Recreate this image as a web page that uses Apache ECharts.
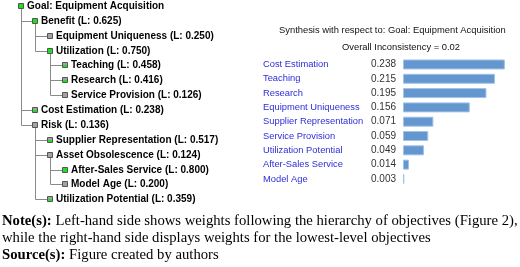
<!DOCTYPE html>
<html><head><meta charset="utf-8">
<script src="https://cdn.jsdelivr.net/npm/echarts@6/dist/echarts.min.js"></script>
<style>html,body{margin:0;padding:0;background:#fff}#c{width:520px;height:267px}</style>
</head><body><div id="c"></div>
<script>
// ---- data ----
const nodeNames = ['Goal: Equipment Acquisition','Benefit','Equipment Uniqueness','Utilization','Teaching','Research','Service Provision','Cost Estimation','Risk','Supplier Representation','Asset Obsolescence','After-Sales Service','Model Age','Utilization Potential'];
const nodeWeights = [null,0.625,0.250,0.750,0.458,0.416,0.126,0.238,0.136,0.517,0.124,0.800,0.200,0.359];
const nodeParents = [-1,0,1,1,3,3,3,0,0,8,8,10,10,8];
const nodeStatus = ['done','done','open','done','part','part','open','part','open','part','open','done','open','part'];
const barCategories = ['Cost Estimation','Teaching','Research','Equipment Uniqueness','Supplier Representation','Service Provision','Utilization Potential','After-Sales Service','Model Age'];
const barValues = [0.238,0.215,0.195,0.156,0.071,0.059,0.049,0.014,0.003];
const synthesisTitle = 'Synthesis with respect to: Goal: Equipment Acquisition';
const inconsistencyText = 'Overall Inconsistency = 0.02';
const noteLine1 = 'Left-hand side shows weights following the hierarchy of objectives (Figure 2),';
const noteLine2 = 'while the right-hand side displays weights for the lowest-level objectives';
const sourceText = 'Figure created by authors';

// ---- derived ----
const depths = nodeParents.map(function (p) {
  let d = 0, q = p;
  while (q >= 0) { d++; q = nodeParents[q]; }
  return d;
});
const treeData = nodeNames.map(function (n, i) { return [depths[i], i, nodeParents[i]]; });
const maxDepth = Math.max.apply(null, depths);

const GREEN = '#1ee01e', GREY = '#a3a3a3', BORDER = '#555555', LINE = '#8a8a8a';
const SANS = '"Liberation Sans", Arial, sans-serif';
const SERIF = '"Liberation Serif", "Times New Roman", serif';
const NOTE_SIZE = 14.7;

const chart = echarts.init(document.getElementById('c'), null, {renderer: 'canvas'});
chart.setOption({
  animation: false,
  grid: [
    {left: 20.7, top: 6, width: 44.3, height: 193.3, containLabel: false},
    {left: 403, top: 57.3, width: 107, height: 128.8, containLabel: false}
  ],
  xAxis: [
    {gridIndex: 0, type: 'value', min: 0, max: maxDepth, show: false},
    {gridIndex: 1, type: 'value', min: 0, max: 0.25, show: false}
  ],
  yAxis: [
    {gridIndex: 0, type: 'value', min: 0, max: nodeNames.length - 1, inverse: true, show: false},
    {gridIndex: 1, type: 'category', data: barCategories, inverse: true,
      axisLine: {show: false}, axisTick: {show: false}, splitLine: {show: false},
      axisLabel: {margin: 140, align: 'left', color: '#2e2ed6', fontSize: 9.35, fontFamily: SANS}}
  ],
  series: [
    {
      type: 'custom', xAxisIndex: 0, yAxisIndex: 0, data: treeData, silent: true, clip: false,
      renderItem: function (params, api) {
        const i = params.dataIndex;
        const d = api.value(0), r = api.value(1), p = api.value(2);
        const c = api.coord([d, r]);
        const cx = Math.round(c[0]), cy = Math.round(c[1]);
        const ch = [];
        if (p >= 0) {
          const pc = api.coord([depths[p], p]);
          const px = Math.round(pc[0]) + 0.5;
          ch.push({type: 'polyline', shape: {points: [[px, Math.round(pc[1]) + 3], [px, cy + 0.5], [cx - 3, cy + 0.5]]},
            style: {stroke: LINE, lineWidth: 1, fill: null}});
        }
        const st = nodeStatus[i];
        ch.push({type: 'rect', shape: {x: cx - 3 + 0.5, y: cy - 3 + 0.5, width: 5, height: 5},
          style: {fill: st === 'done' ? GREEN : GREY, stroke: BORDER, lineWidth: 1}});
        if (st === 'part') {
          ch.push({type: 'rect', shape: {x: cx - 2, y: cy, width: 4, height: 2}, style: {fill: GREEN}});
        }
        const label = nodeWeights[i] == null ? nodeNames[i] : nodeNames[i] + ' (L: ' + nodeWeights[i].toFixed(3) + ')';
        ch.push({type: 'text', x: cx + 6, y: cy + 0.5,
          style: {text: label, fill: '#000', font: 'bold 10px ' + SANS, align: 'left', verticalAlign: 'middle'}});
        return {type: 'group', children: ch};
      }
    },
    {
      type: 'bar', xAxisIndex: 1, yAxisIndex: 1, data: barValues, barWidth: 10, silent: true,
      itemStyle: {color: '#6497cf', borderColor: '#a4c2e6', borderWidth: 1},
      label: {show: true, position: 'left', distance: 7, color: '#333', fontSize: 10, fontFamily: SANS,
        formatter: function (p) { return p.value.toFixed(3); }}
    }
  ],
  graphic: [
    {type: 'text', x: 279, y: 30, style: {text: synthesisTitle, fill: '#111', font: '9.4px ' + SANS, align: 'left', verticalAlign: 'middle'}},
    {type: 'text', x: 342, y: 47, style: {text: inconsistencyText, fill: '#111', font: '9.4px ' + SANS, align: 'left', verticalAlign: 'middle'}},
    {type: 'text', x: 2, y: 221, style: {text: '{b|Note(s):} ' + noteLine1, fill: '#000', font: NOTE_SIZE + 'px ' + SERIF, verticalAlign: 'middle',
      rich: {b: {fontWeight: 'bold', fontSize: NOTE_SIZE, fontFamily: SERIF}}}},
    {type: 'text', x: 2, y: 237.7, style: {text: noteLine2, fill: '#000', font: NOTE_SIZE + 'px ' + SERIF, verticalAlign: 'middle'}},
    {type: 'text', x: 2, y: 255, style: {text: '{b|Source(s):} ' + sourceText, fill: '#000', font: NOTE_SIZE + 'px ' + SERIF, verticalAlign: 'middle',
      rich: {b: {fontWeight: 'bold', fontSize: NOTE_SIZE, fontFamily: SERIF}}}}
  ]
});
</script></body></html>
